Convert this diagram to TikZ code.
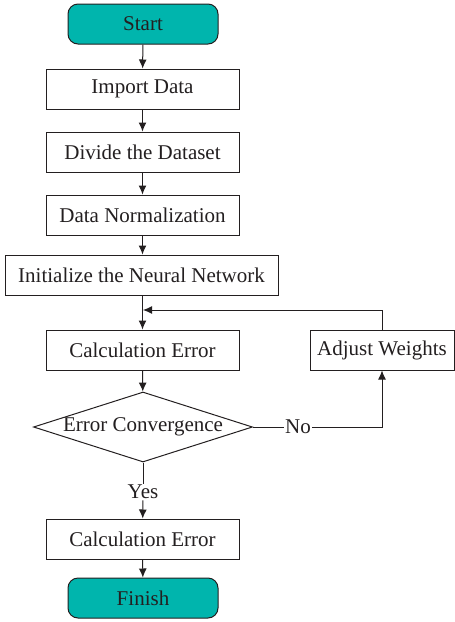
\documentclass[tikz,border=0pt]{standalone}
\usepackage{fontspec}
\setmainfont{Liberation Serif}
\usepackage{tikz}
\usetikzlibrary{shapes.geometric, arrows.meta, positioning}
\definecolor{termfill}{RGB}{0,181,173}
\definecolor{linegray}{RGB}{35,31,32}
\tikzset{>={Latex[length=9pt, width=8pt]}}
\tikzset{font=\fontsize{21}{25}\selectfont}
\tikzset{
  procbox/.style={rectangle, draw, minimum width=193pt, minimum height=40pt, inner sep=2pt},
  termbox/.style={rectangle, rounded corners=10pt, draw, fill=termfill, minimum width=150pt, minimum height=40pt},
  decbox/.style={diamond, draw, aspect=3.1, inner sep=0pt, minimum width=219pt, minimum height=70pt},
  flowlabel/.style={inner sep=1pt, fill=white}
}

\begin{document}
\begin{tikzpicture}[x=1pt, y=-1pt, line width=1pt, color=linegray]
  \useasboundingbox (0,0) rectangle (455,622);
  \node[termbox] (start) at (143,24) {Start};
  \node[procbox] (import) at (142.5,89) {Import Data};
  \node[procbox] (divide) at (142.5,152) {Divide the Dataset};
  \node[procbox] (norm) at (142.5,215) {Data Normalization};
  \node[procbox, minimum width=273pt] (init) at (141.5,275) {Initialize the Neural Network};
  \node[procbox] (calc) at (142.5,350) {Calculation Error};
  \node[procbox, minimum width=144pt] (adjust) at (382,350) {Adjust Weights};
  \node[decbox] (conv) at (143,427) {Error Convergence};
  \node[flowlabel] (no) at (298,427) {No};
  \node[flowlabel] (yes) at (143,492) {Yes};
  \node[procbox] (calcend) at (142.5,539) {Calculation Error};
  \node[termbox] (finish) at (143,598) {Finish};
  \coordinate (back) at (143,310);

  \draw[->] (start) -- (import);
  \draw[->] (import) -- (divide);
  \draw[->] (divide) -- (norm);
  \draw[->] (norm) -- (norm.south |- init.north);
  \draw[->] (init.south -| calc.north) -- (calc);
  \draw[->] (calc) -- (conv);
  \draw (conv) -- (no);
  \draw[->] (no) -| (adjust);
  \draw[->] (adjust) |- (back);
  \draw (conv) -- (yes);
  \draw[->] (yes) -- (calcend);
  \draw[->] (calcend) -- (finish);
\end{tikzpicture}
\end{document}
